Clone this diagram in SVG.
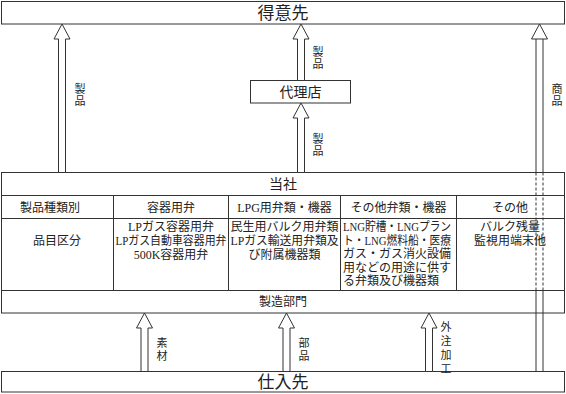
<svg xmlns="http://www.w3.org/2000/svg" width="566" height="394" viewBox="0 0 566 394">
<style>
.box{fill:#fff;stroke:#333;stroke-width:1}
.ln{stroke:#333;stroke-width:1;fill:none}
.dash{stroke:#333;stroke-width:1;fill:none;stroke-dasharray:3,2}
.arr{fill:#fff;stroke:#333;stroke-width:1}
text{font-family:"Liberation Serif","Noto Sans CJK JP",serif;fill:#222}
.big{font-size:17px;text-anchor:middle}
.mid{font-size:14px;text-anchor:middle}
.cell{font-size:12px;text-anchor:middle}
.lab{font-size:11px;text-anchor:middle}
</style>
<g id="tokuisaki"><rect class="box" x="1.5" y="1.5" width="563" height="22.5"/><text class="big" x="283" y="19">得意先</text></g>
<g id="dairiten"><rect class="box" x="250.5" y="80.5" width="100" height="22.5"/><text class="mid" x="300.5" y="97">代理店</text></g>
<g id="tosha">
<rect class="box" x="1.5" y="172.5" width="563" height="118"/>
<text class="mid" x="283" y="189">当社</text>
<line class="ln" x1="1.5" y1="195.5" x2="564.5" y2="195.5"/>
<line class="ln" x1="1.5" y1="218.5" x2="564.5" y2="218.5"/>
<line class="ln" x1="113.5" y1="195.5" x2="113.5" y2="290.5"/>
<line class="ln" x1="228.5" y1="195.5" x2="228.5" y2="290.5"/>
<line class="ln" x1="340.5" y1="195.5" x2="340.5" y2="290.5"/>
<line class="ln" x1="456.5" y1="195.5" x2="456.5" y2="290.5"/>
<text class="cell" x="50" y="212">製品種類別</text>
<text class="cell" x="171" y="212">容器用弁</text>
<text class="cell" x="284.5" y="212">LPG用弁類・機器</text>
<text class="cell" x="398.5" y="212">その他弁類・機器</text>
<text class="cell" x="510" y="212">その他</text>
<text class="cell" x="57" y="245">品目区分</text>
<text class="cell" x="171" y="231">LPガス容器用弁</text>
<text class="cell" x="171" y="245" textLength="111" lengthAdjust="spacingAndGlyphs">LPガス自動車容器用弁</text>
<text class="cell" x="171" y="259">500K容器用弁</text>
<text class="cell" x="284.5" y="231" textLength="108" lengthAdjust="spacingAndGlyphs">民生用バルク用弁類</text>
<text class="cell" x="284.5" y="245" textLength="108" lengthAdjust="spacingAndGlyphs">LPガス輸送用弁類及</text>
<text class="cell" x="284.5" y="259">び附属機器類</text>
<g style="text-anchor:start">
<text class="cell" x="343" y="231" style="text-anchor:start" textLength="108" lengthAdjust="spacingAndGlyphs">LNG貯槽・LNGプラン</text>
<text class="cell" x="343" y="244.5" style="text-anchor:start" textLength="108" lengthAdjust="spacingAndGlyphs">ト・LNG燃料船・医療</text>
<text class="cell" x="343" y="258" style="text-anchor:start" textLength="108" lengthAdjust="spacingAndGlyphs">ガス・ガス消火設備</text>
<text class="cell" x="343" y="271.5" style="text-anchor:start" textLength="108" lengthAdjust="spacingAndGlyphs">用などの用途に供す</text>
<text class="cell" x="343" y="285" style="text-anchor:start">る弁類及び機器類</text>
</g>
<text class="cell" x="510"><tspan x="510" y="231">バルク残量</tspan><tspan x="510" y="245">監視用端末他</tspan></text>
</g>
<g id="seizo"><rect class="box" x="1.5" y="290.5" width="563" height="22.5"/><text class="cell" x="283" y="306">製造部門</text></g>
<g id="shiiresaki"><rect class="box" x="1.5" y="371.5" width="563" height="20.5"/><text class="big" x="283" y="388">仕入先</text></g>
<g id="connectors">
<polygon class="arr" points="62,24 70,39 65.5,39 65.5,172.5 58.5,172.5 58.5,39 54,39"/>
<polygon class="arr" points="301,24 309,39 304.5,39 304.5,80.5 297.5,80.5 297.5,39 293,39"/>
<polygon class="arr" points="301,103 309,118 304.5,118 304.5,172.5 297.5,172.5 297.5,118 293,118"/>
<polygon class="arr" points="539.5,24 547.5,39 543,39 536,39 531.5,39"/>
<line class="ln" x1="536" y1="39" x2="536" y2="172.5"/>
<line class="ln" x1="543" y1="39" x2="543" y2="172.5"/>
<line class="dash" x1="536" y1="172.5" x2="536" y2="290.5"/>
<line class="dash" x1="543" y1="172.5" x2="543" y2="290.5"/>
<line class="ln" x1="536" y1="290.5" x2="536" y2="371.5"/>
<line class="ln" x1="543" y1="290.5" x2="543" y2="371.5"/>
<polygon class="arr" points="144.5,313 152.5,328 148,328 148,371.5 141,371.5 141,328 136.5,328"/>
<polygon class="arr" points="286.5,313 294.5,328 290,328 290,371.5 283,371.5 283,328 278.5,328"/>
<polygon class="arr" points="429,313 437,328 432.5,328 432.5,371.5 425.5,371.5 425.5,328 421,328"/>
<text class="lab"><tspan x="80" y="93">製</tspan><tspan x="80" y="105">品</tspan></text>
<text class="lab"><tspan x="318" y="56">製</tspan><tspan x="318" y="68">品</tspan></text>
<text class="lab"><tspan x="318" y="143">製</tspan><tspan x="318" y="155">品</tspan></text>
<text class="lab"><tspan x="557" y="93">商</tspan><tspan x="557" y="105">品</tspan></text>
<text class="lab"><tspan x="162" y="347">素</tspan><tspan x="162" y="360">材</tspan></text>
<text class="lab"><tspan x="304" y="347">部</tspan><tspan x="304" y="360">品</tspan></text>
<text class="lab"><tspan x="446" y="331">外</tspan><tspan x="446" y="345">注</tspan><tspan x="446" y="359">加</tspan><tspan x="446" y="373">工</tspan></text>
</g>
</svg>
